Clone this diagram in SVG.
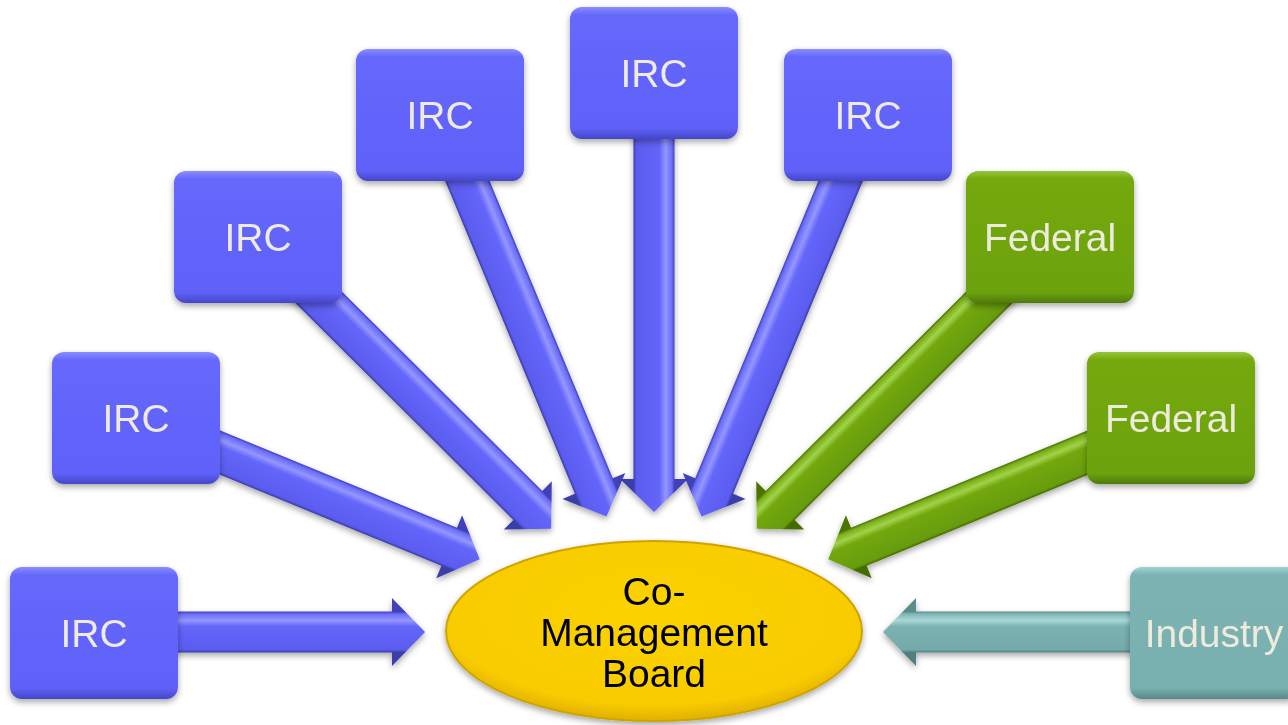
<svg xmlns="http://www.w3.org/2000/svg" width="1288" height="725" viewBox="0 0 1288 725">
  <defs>
    <style>
      .lbl { font-family: "Liberation Sans", Arial, sans-serif; font-size: 39px; fill: #EEEBDC; text-anchor: middle; }
      .core { font-family: "Liberation Sans", Arial, sans-serif; font-size: 39px; fill: #000000; text-anchor: middle; }
      .box { filter: url(#shadow); }
    </style>
    <filter id="shadow" x="-20%" y="-20%" width="140%" height="150%">
      <feDropShadow dx="0" dy="3" stdDeviation="3" flood-color="#000" flood-opacity="0.35"/>
    </filter>
    <!-- box fills: light rim at top, darker rim at bottom -->
    <linearGradient id="gBlue" x1="0" y1="0" x2="0" y2="1">
      <stop offset="0" stop-color="#8A8CFF"/>
      <stop offset="0.06" stop-color="#6668FC"/>
      <stop offset="0.92" stop-color="#5F61F8"/>
      <stop offset="1" stop-color="#4546C8"/>
    </linearGradient>
    <linearGradient id="gGreen" x1="0" y1="0" x2="0" y2="1">
      <stop offset="0" stop-color="#93C63A"/>
      <stop offset="0.06" stop-color="#74A90E"/>
      <stop offset="0.92" stop-color="#6CA20A"/>
      <stop offset="1" stop-color="#4E7A06"/>
    </linearGradient>
    <linearGradient id="gTeal" x1="0" y1="0" x2="0" y2="1">
      <stop offset="0" stop-color="#A2D2D2"/>
      <stop offset="0.06" stop-color="#7DB3B3"/>
      <stop offset="0.92" stop-color="#78AFAF"/>
      <stop offset="1" stop-color="#588888"/>
    </linearGradient>
    <!-- arrow fills, across the arrow (local y) -->
    <linearGradient id="aBlue" x1="0" y1="0" x2="0" y2="1">
      <stop offset="0.2" stop-color="#3F41B8"/>
      <stop offset="0.235" stop-color="#6A6CFA"/>
      <stop offset="0.33" stop-color="#9496FF"/>
      <stop offset="0.42" stop-color="#6466FA"/>
      <stop offset="0.76" stop-color="#5A5CEE"/>
      <stop offset="0.8" stop-color="#3A3CA8"/>
    </linearGradient>
    <linearGradient id="aGreen" x1="0" y1="0" x2="0" y2="1">
      <stop offset="0.2" stop-color="#4A7406"/>
      <stop offset="0.235" stop-color="#78AE14"/>
      <stop offset="0.33" stop-color="#A2D24A"/>
      <stop offset="0.42" stop-color="#72A80E"/>
      <stop offset="0.76" stop-color="#679C08"/>
      <stop offset="0.8" stop-color="#456C05"/>
    </linearGradient>
    <linearGradient id="aTeal" x1="0" y1="0" x2="0" y2="1">
      <stop offset="0.2" stop-color="#5A8C8C"/>
      <stop offset="0.235" stop-color="#80B6B6"/>
      <stop offset="0.33" stop-color="#A8D8D8"/>
      <stop offset="0.42" stop-color="#7CB2B2"/>
      <stop offset="0.76" stop-color="#74AAAA"/>
      <stop offset="0.8" stop-color="#527E7E"/>
    </linearGradient>
    <radialGradient id="gGold" cx="0.5" cy="0.4" r="0.6">
      <stop offset="0" stop-color="#FCD200"/>
      <stop offset="0.85" stop-color="#F8CC00"/>
      <stop offset="1" stop-color="#E0B000"/>
    </radialGradient>
  </defs>

  <!-- block arrows: tip at local origin, pointing along +x; right-hand ones flipped so the sheen stays on top -->
  <g id="connectors" filter="url(#shadow)">
    <polygon transform="translate(425 632) rotate(0)" fill="url(#aBlue)" points="0,0 -33,-34 -33,-20.5 -331,-20.5 -331,20.5 -33,20.5 -33,34"/>
    <polygon transform="translate(479.7 559.3) rotate(22.35)" fill="url(#aBlue)" points="0,0 -33,-34 -33,-20.5 -372,-20.5 -372,20.5 -33,20.5 -33,34"/>
    <polygon transform="translate(551.2 528.7) rotate(44.85)" fill="url(#aBlue)" points="0,0 -33,-34 -33,-20.5 -414,-20.5 -414,20.5 -33,20.5 -33,34"/>
    <polygon transform="translate(606.5 516.5) rotate(67.48)" fill="url(#aBlue)" points="0,0 -33,-34 -33,-20.5 -435,-20.5 -435,20.5 -33,20.5 -33,34"/>
    <polygon transform="translate(654 512) rotate(90)" fill="url(#aBlue)" points="0,0 -33,-34 -33,-20.5 -439,-20.5 -439,20.5 -33,20.5 -33,34"/>
    <polygon transform="translate(701.5 516.5) rotate(112.52) scale(1 -1)" fill="url(#aBlue)" points="0,0 -33,-34 -33,-20.5 -435,-20.5 -435,20.5 -33,20.5 -33,34"/>
    <polygon transform="translate(756.8 528.7) rotate(135.15) scale(1 -1)" fill="url(#aGreen)" points="0,0 -33,-34 -33,-20.5 -414,-20.5 -414,20.5 -33,20.5 -33,34"/>
    <polygon transform="translate(828.3 559.3) rotate(157.65) scale(1 -1)" fill="url(#aGreen)" points="0,0 -33,-34 -33,-20.5 -372,-20.5 -372,20.5 -33,20.5 -33,34"/>
    <polygon transform="translate(883 632) rotate(180) scale(1 -1)" fill="url(#aTeal)" points="0,0 -33,-34 -33,-20.5 -331,-20.5 -331,20.5 -33,20.5 -33,34"/>
  </g>

  <g id="irc-1" class="box">
    <rect x="10" y="567" width="168" height="132" rx="12" fill="url(#gBlue)"/>
    <text class="lbl" x="94" y="647">IRC</text>
  </g>
  <g id="irc-2" class="box">
    <rect x="52" y="352" width="168" height="132" rx="12" fill="url(#gBlue)"/>
    <text class="lbl" x="136" y="432">IRC</text>
  </g>
  <g id="irc-3" class="box">
    <rect x="174" y="171" width="168" height="132" rx="12" fill="url(#gBlue)"/>
    <text class="lbl" x="258" y="251">IRC</text>
  </g>
  <g id="irc-4" class="box">
    <rect x="356" y="49" width="168" height="132" rx="12" fill="url(#gBlue)"/>
    <text class="lbl" x="440" y="129">IRC</text>
  </g>
  <g id="irc-5" class="box">
    <rect x="570" y="7" width="168" height="132" rx="12" fill="url(#gBlue)"/>
    <text class="lbl" x="654" y="87">IRC</text>
  </g>
  <g id="irc-6" class="box">
    <rect x="784" y="49" width="168" height="132" rx="12" fill="url(#gBlue)"/>
    <text class="lbl" x="868" y="129">IRC</text>
  </g>
  <g id="federal-1" class="box">
    <rect x="966" y="171" width="168" height="132" rx="12" fill="url(#gGreen)"/>
    <text class="lbl" x="1050" y="251">Federal</text>
  </g>
  <g id="federal-2" class="box">
    <rect x="1087" y="352" width="168" height="132" rx="12" fill="url(#gGreen)"/>
    <text class="lbl" x="1171" y="432">Federal</text>
  </g>
  <g id="industry" class="box">
    <rect x="1130" y="567" width="168" height="132" rx="12" fill="url(#gTeal)"/>
    <text class="lbl" x="1214" y="647">Industry</text>
  </g>

  <g id="co-management-board">
    <ellipse cx="654" cy="631" rx="208" ry="90" fill="url(#gGold)" stroke="#CFA400" stroke-width="2" filter="url(#shadow)"/>
    <text class="core" x="654" y="605">Co-</text>
    <text class="core" x="654" y="646">Management</text>
    <text class="core" x="654" y="687">Board</text>
  </g>
</svg>
